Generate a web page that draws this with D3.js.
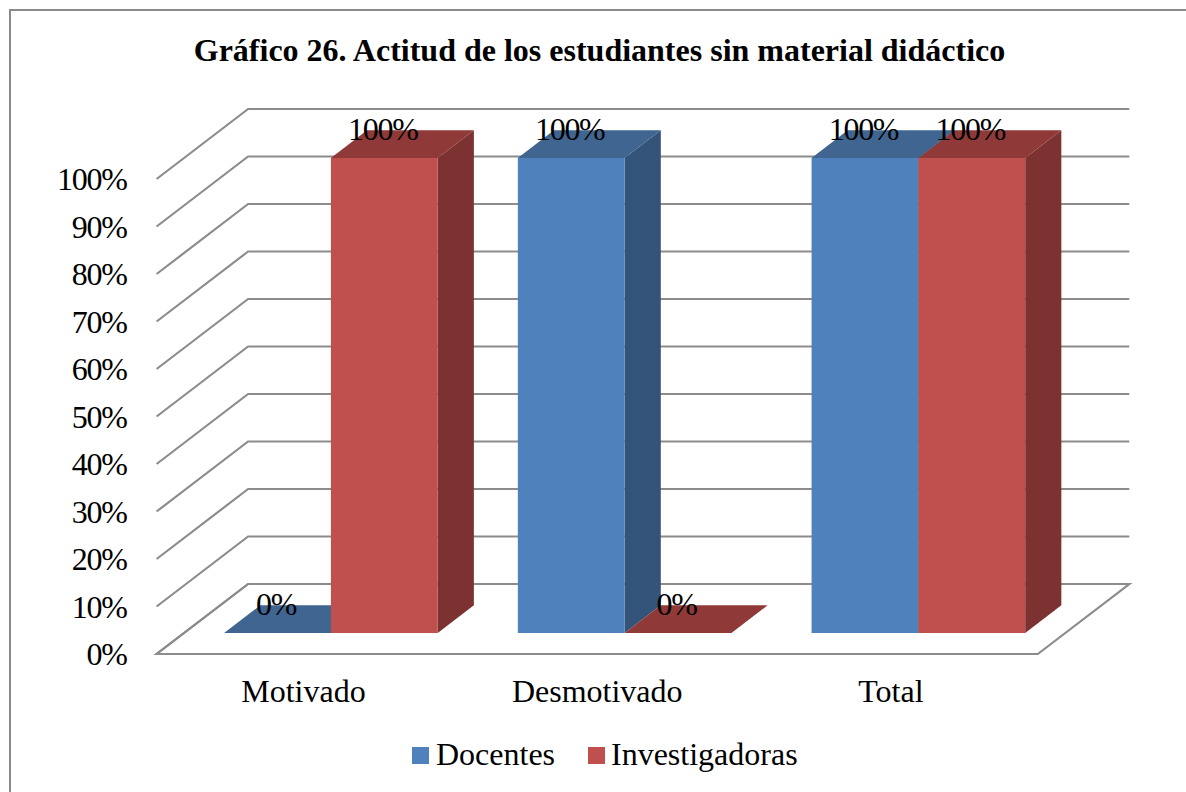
<!DOCTYPE html>
<html lang="es"><head><meta charset="utf-8">
<script src="https://cdn.jsdelivr.net/npm/d3@7/dist/d3.min.js"></script>
<style>html,body{margin:0;padding:0;background:#fff}svg{display:block}text{font-family:"Liberation Serif","Times New Roman",serif;fill:#000}.num{letter-spacing:-1.3px}</style>
</head><body><div id="chart"></div>
<script>
const titleText = "Gráfico 26. Actitud de los estudiantes sin material didáctico";
const categories = ["Motivado", "Desmotivado", "Total"];
const seriesNames = ["Docentes", "Investigadoras"];
const docentes = [0, 1, 1];
const investigadoras = [1, 0, 1];
const tickValues = [0, .1, .2, .3, .4, .5, .6, .7, .8, .9, 1];
const seriesColors = ["#4F81BD", "#C0504D"];
const topColors = ["#3F6590", "#8F3A38"];
const sideColors = ["#335379", "#7B3230"];

const W = 1186, H = 792;
const svg = d3.select("#chart").append("svg").attr("width", W).attr("height", H);
svg.append("path").attr("d", `M10,${H}V10H${W}`).attr("fill", "none")
  .attr("stroke", "#8a8a8a").attr("stroke-width", 2);

const x = d3.scaleBand().domain(categories).range([156.6, 1037.8]);
const y = d3.scaleLinear().domain([0, 1]).range([654, 179]);
const depth = d3.scaleLinear().domain([0, 1]).range([[0, 0], [91.5, -70]]);
const barX = d3.scaleBand().domain(seriesNames).range([0, x.bandwidth()]).paddingInner(0).paddingOuter(0.375);
const P = (px, v, d) => { const o = depth(d); return [px + o[0], y(v) + o[1]]; };
const path = pts => "M" + pts.map(p => p.join(",")).join("L") + "Z";
const [x0, x1] = x.range();

// walls and gridlines
const grid = svg.append("g").attr("fill", "none").attr("stroke", "#8c8c8c").attr("stroke-width", 2.2);
tickValues.forEach(v => {
  grid.append("path").attr("d", d3.line()([P(x0, v, 0), P(x0, v, 1), P(x1, v, 1)]));
});
grid.append("path").attr("d", path([P(x0, 0, 0), P(x1, 0, 0), P(x1, 0, 1), P(x0, 0, 1)]));

// y axis labels
svg.append("g").selectAll("text").data(tickValues).join("text").attr("class", "num")
  .attr("x", 126.5).attr("y", d => y(d) + 11).attr("text-anchor", "end").attr("font-size", 32)
  .text(d3.format(".0%"));

// bars
const series = [docentes, investigadoras];
const labels = [];
const dF = 0.3, dB = 0.695;
const bars = svg.append("g");
categories.forEach((c, ci) => {
  seriesNames.forEach((s, si) => {
    const v = series[si][ci];
    const a = x(c) + barX(s), b = a + barX.bandwidth();
    const g = bars.append("g");
    g.append("path").attr("fill", sideColors[si]).attr("d", path([P(b, 0, dF), P(b, 0, dB), P(b, v, dB), P(b, v, dF)]));
    g.append("path").attr("fill", topColors[si]).attr("d", path([P(a, v, dF), P(b, v, dF), P(b, v, dB), P(a, v, dB)]));
    if (v > 0) g.append("path").attr("fill", seriesColors[si]).attr("d", path([P(a, 0, dF), P(b, 0, dF), P(b, v, dF), P(a, v, dF)]));
    labels.push({ x: P((a + b) / 2, v, dF)[0] - 1.5, y: P(a, v, dF)[1] - 18, t: d3.format(".0%")(v) });
  });
});

svg.append("g").selectAll("text").data(labels).join("text").attr("class", "num")
  .attr("x", d => d.x).attr("y", d => d.y).attr("text-anchor", "middle").attr("font-size", 32)
  .text(d => d.t);

// category labels
svg.append("g").selectAll("text").data(categories).join("text")
  .attr("x", d => x(d) + x.bandwidth() / 2).attr("y", 702).attr("text-anchor", "middle").attr("font-size", 32)
  .text(d => d);

// title
svg.append("text").attr("x", 599.5).attr("y", 61).attr("text-anchor", "middle")
  .attr("font-size", 32).attr("font-weight", "bold").text(titleText);

// legend
const legendX = [412, 588];
const legend = svg.append("g").selectAll("g").data(seriesNames).join("g")
  .attr("transform", (d, i) => `translate(${legendX[i]},747)`);
legend.append("rect").attr("width", 17).attr("height", 17).attr("fill", (d, i) => seriesColors[i]);
legend.append("text").attr("x", (d, i) => [24, 23][i]).attr("y", 18).attr("font-size", 32).text(d => d);
</script></body></html>
